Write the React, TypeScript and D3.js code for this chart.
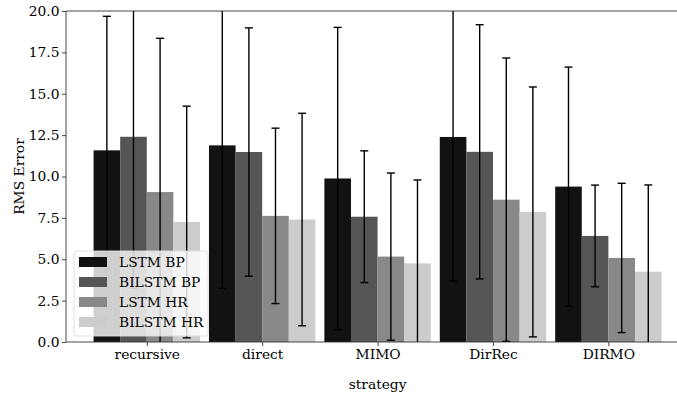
import React, { useRef, useEffect } from "react";
import * as d3 from "d3";

// values
const strategies = ["recursive", "direct", "MIMO", "DirRec", "DIRMO"];
const seriesNames = ["LSTM BP", "BILSTM BP", "LSTM HR", "BILSTM HR"];
const seriesColors = ["#121212", "#555555", "#888888", "#cccccc"];
const lstmBP = [11.58, 11.88, 9.88, 12.39, 9.39];
const lstmBPErr = [8.1, 8.64, 9.13, 8.7, 7.22];
const bilstmBP = [12.4, 11.48, 7.57, 11.49, 6.41];
const bilstmBPErr = [9.14, 7.5, 3.98, 7.68, 3.07];
const lstmHR = [9.06, 7.62, 5.16, 8.6, 5.08];
const lstmHRErr = [9.29, 5.3, 5.05, 8.56, 4.51];
const bilstmHR = [7.25, 7.4, 4.75, 7.86, 4.25];
const bilstmHRErr = [7.0, 6.42, 5.04, 7.55, 5.24];
const yTicks = [0, 2.5, 5, 7.5, 10, 12.5, 15, 17.5, 20];

const means = [lstmBP, bilstmBP, lstmHR, bilstmHR];
const errs = [lstmBPErr, bilstmBPErr, lstmHRErr, bilstmHRErr];

const FONT = "DejaVu Serif";
const FS = 13.8;

function App() {
  const svgRef = useRef<SVGSVGElement>(null);

  useEffect(() => {
    const svg = d3.select(svgRef.current);
    svg.selectAll("*").remove();

    const left = 66, top = 11, bottom = 342;
    // categories sit at integer positions, axis runs from -0.7 to 4.7
    const x = d3.scaleLinear().domain([-0.7, 4.7]).range([left, left + 5.4 * 115.4]);
    const y = d3.scaleLinear().domain([0, 20]).range([bottom, top]);
    const barW = x(0.2305) - x(0);

    svg
      .append("defs")
      .append("clipPath")
      .attr("id", "clip")
      .append("rect")
      .attr("x", left)
      .attr("y", top)
      .attr("width", 700)
      .attr("height", bottom - top);
    const plot = svg.append("g").attr("clip-path", "url(#clip)");

    means.forEach((vals, s) => {
      plot
        .selectAll(null)
        .data(vals)
        .join("rect")
        .attr("x", (d, i) => x(i) + (s - 2) * barW)
        .attr("y", (d) => y(d))
        .attr("width", barW)
        .attr("height", (d) => y(0) - y(d))
        .attr("fill", seriesColors[s]);
    });

    // error bars: mean +/- sd
    means.forEach((vals, s) => {
      vals.forEach((m, i) => {
        const cx = x(i) + (s - 1.5) * barW;
        const lo = m - errs[s][i];
        const hi = m + errs[s][i];
        plot
          .append("line")
          .attr("x1", cx)
          .attr("x2", cx)
          .attr("y1", y(lo))
          .attr("y2", y(hi))
          .attr("stroke", "#000")
          .attr("stroke-width", 1.4);
        [lo, hi].forEach((v) => {
          plot
            .append("line")
            .attr("x1", cx - 4)
            .attr("x2", cx + 4)
            .attr("y1", y(v))
            .attr("y2", y(v))
            .attr("stroke", "#000")
            .attr("stroke-width", 1.4);
        });
      });
    });

    // y axis
    const yAxis = svg
      .append("g")
      .attr("transform", `translate(${left},0)`)
      .call(
        d3
          .axisLeft(y)
          .tickValues(yTicks)
          .tickSize(4)
          .tickPadding(2.5)
          .tickFormat(d3.format(".1f"))
      );
    yAxis.select(".domain").remove();

    // x axis
    const xAxis = svg
      .append("g")
      .attr("transform", `translate(0,${bottom})`)
      .call(
        d3
          .axisBottom(x)
          .tickValues(d3.range(strategies.length))
          .tickSize(4)
          .tickPadding(3.5)
          .tickFormat((d) => strategies[d as number])
      );
    xAxis.select(".domain").remove();

    svg
      .selectAll(".tick text")
      .attr("font-family", FONT)
      .attr("font-size", FS)
      .attr("fill", "#000");
    svg.selectAll(".tick line").attr("stroke", "#333").attr("stroke-width", 0.9);

    // spines
    const spine = (x1: number, y1: number, x2: number, y2: number) =>
      svg
        .append("line")
        .attr("x1", x1)
        .attr("y1", y1)
        .attr("x2", x2)
        .attr("y2", y2)
        .attr("stroke", "#333")
        .attr("stroke-width", 0.9);
    spine(left, top, 700, top);
    spine(left, bottom, 700, bottom);
    spine(left, top, left, bottom);

    // axis titles
    svg
      .append("text")
      .attr("transform", `translate(24,${(top + bottom) / 2}) rotate(-90)`)
      .attr("text-anchor", "middle")
      .attr("font-family", FONT)
      .attr("font-size", FS)
      .text("RMS Error");
    svg
      .append("text")
      .attr("x", x(2))
      .attr("y", 389)
      .attr("text-anchor", "middle")
      .attr("font-family", FONT)
      .attr("font-size", FS)
      .text("strategy");

    // legend
    const lg = svg.append("g").attr("transform", "translate(74,251)");
    lg.append("rect")
      .attr("width", 134)
      .attr("height", 85)
      .attr("rx", 3)
      .attr("fill", "#fff")
      .attr("fill-opacity", 0.8)
      .attr("stroke", "#ddd")
      .attr("stroke-width", 0.9);
    const items = lg
      .selectAll("g.item")
      .data(seriesNames)
      .join("g")
      .attr("transform", (d, i) => `translate(5,${11 + i * 20})`);
    items
      .append("rect")
      .attr("y", -5)
      .attr("width", 28)
      .attr("height", 10)
      .attr("fill", (d, i) => seriesColors[i]);
    items
      .append("text")
      .attr("x", 40)
      .attr("y", 5)
      .attr("font-family", FONT)
      .attr("font-size", FS)
      .text((d) => d);
  }, []);

  return <svg ref={svgRef} width={677} height={398} style={{ display: "block", position: "absolute", left: 0, top: 0 }} />;
}

export default App;
